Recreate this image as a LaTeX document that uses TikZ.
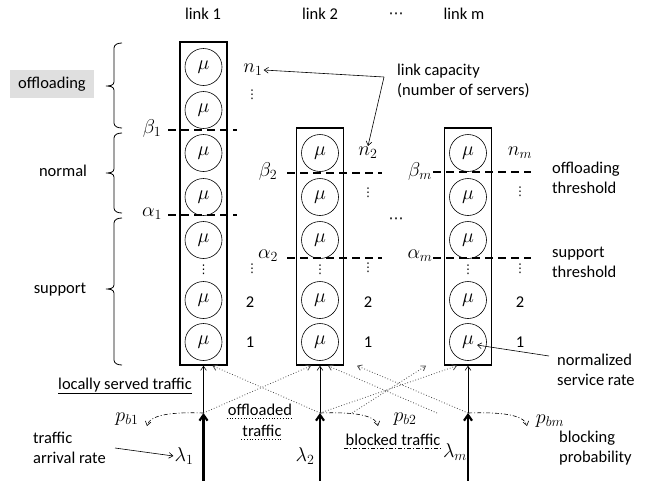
\RequirePackage{fix-cm}
\documentclass[tikz,border=0pt]{standalone}
\usepackage{fontspec}
\setmainfont{Carlito}
\newfontfamily\dvsym{DejaVu Sans}
\usetikzlibrary{arrows.meta}
\newcommand\leftbrace[3]{% top, mid, bottom at x=114
  \draw[line width=0.8pt] (122,#1) to[out=180,in=90] (114,#1+5) -- (114,#2-4)
    to[out=-90,in=0] (106,#2) to[out=0,in=90] (114,#2+4) -- (114,#3-5)
    to[out=-90,in=180] (122,#3);}
\begin{document}
\begin{tikzpicture}[x=1pt,y=-1pt,
  font=\fontsize{16.5}{20}\selectfont,
  >={Straight Barb[angle=70:5pt]},
  mth/.style={font=\fontsize{20}{23}\selectfont,inner sep=1pt},
  vd/.style={font=\fontsize{12}{13}\dvsym,inner sep=0pt},
  hd/.style={font=\fontsize{15}{16}\dvsym,inner sep=0pt},
  srv/.style={circle,draw,minimum size=37pt,inner sep=0pt,line width=0.6pt,font=\fontsize{20}{23}\selectfont},
  linkbox/.style={draw,line width=1.5pt,minimum width=47pt,inner sep=0pt},
  thr/.style={line width=1.7pt,dash pattern=on 8pt off 5pt},
  txt/.style={inner sep=1pt},
  ml/.style={align=left,inner sep=0pt,anchor=west},
  offl/.style={gray!60!black,dotted,line width=0.8pt,->},
  block/.style={dash pattern=on 4pt off 2pt on 1pt off 2pt,line width=0.6pt,->},
  arr/.style={line width=2.2pt,-{Straight Barb[angle=70:7pt]}}]
\useasboundingbox (0,0) rectangle (647,480);

% link boxes
\node[linkbox,minimum height=323pt] (box1) at (203.5,203.5) {};
\node[linkbox,minimum height=237pt] (box2) at (320,246.5) {};
\node[linkbox,minimum height=237pt] (boxm) at (468,246.5) {};

% servers
\foreach \r/\y in {1/67,2/110,3/153,4/197,5/240,6/300,7/342}
  \node[srv] (c1\r) at (203.5,\y) {$\mu$};
\foreach \r/\y in {3/153,4/197,5/240,6/300,7/342}{
  \node[srv] (c2\r) at (320,\y) {$\mu$};
  \node[srv] (cm\r) at (468,\y) {$\mu$};}
\node[vd] (d1) at (203.5,270) {⋮};
\node[vd] (d2) at (320,270) {⋮};
\node[vd] (dm) at (468,270) {⋮};

% titles
\node (t1) at (203,14) {link 1};
\node (t2) at (320,14) {link 2};
\node[hd] (tdots) at (396,16) {⋯};
\node (tm) at (464,14) {link m};
\node[hd] (mdots) at (396,221) {⋯};

% thresholds
\node[mth] (beta1) at (152,128) {$\beta_1$};
\node[mth] (alpha1) at (152,214) {$\alpha_1$};
\node[mth] (beta2) at (268,171) {$\beta_2$};
\node[mth] (alpha2) at (268,256) {$\alpha_2$};
\node[mth] (betam) at (420,171) {$\beta_m$};
\node[mth] (alpham) at (420,256) {$\alpha_m$};
\draw[thr] (168,130) -- (237,130);
\draw[thr] (168,215) -- (237,215);
\draw[thr] (287,173) -- (382,173);
\draw[thr] (287,258) -- (382,258);
\draw[thr] (433,172) -- (531,172);
\draw[thr] (433,258) -- (531,258);

% right-side counts
\node[mth] (n1) at (253,70) {$n_1$};
\node[vd] (v1a) at (252,95) {⋮};
\node[vd] (v1b) at (252,269) {⋮};
\node (two1) at (250,302) {2};
\node (one1) at (250,342) {1};
\node[mth] (n2) at (368,153) {$n_2$};
\node[vd] (v2a) at (368,193) {⋮};
\node[vd] (v2b) at (368,268) {⋮};
\node (two2) at (368,302) {2};
\node (one2) at (368,342) {1};
\node[mth] (nm) at (520,153) {$n_m$};
\node[vd] (vma) at (520,192) {⋮};
\node[vd] (vmb) at (520,269) {⋮};
\node (twom) at (520,302) {2};
\node (onem) at (520,342) {1};

% annotations right
\node[ml] (cap) at (397,81) {link capacity\\(number of servers)};
\coordinate (capc) at (384,77);
\draw[line width=0.6pt,->] (capc) -- (n1.east);
\draw[line width=0.6pt,->] (capc) -- (n2.north);
\node[ml] (othr) at (552,178) {offloading\\threshold};
\node[ml] (sthr) at (552,262) {support\\threshold};
\node[ml] (nsr) at (557,370) {normalized\\service rate};
\coordinate (nsrs) at (549,356);
\draw[line width=0.6pt,->] (nsrs) -- ([xshift=9pt,yshift=-3pt]cm7.center);

% left labels and braces
\node[fill=gray!25,minimum width=84pt,minimum height=28pt,inner sep=0pt] (offload) at (52,84) {offloading};
\node (normal) at (63,171) {normal};
\node (support) at (60,290) {support};
\leftbrace{43}{86}{128}
\leftbrace{133}{173}{213}
\leftbrace{218}{289}{365}

% bottom flows
\foreach \c/\x in {1/203.5,2/320,m/468}{
  \coordinate (p\c) at (\x,413);
  \coordinate (b\c) at (\x,482);
  \draw[arr] (b\c) -- (p\c);
  \draw[line width=0.6pt,->] (p\c) -- (box\c.south);}
\coordinate (dstart) at (352,413);
\coordinate (fstart) at (437,413);
\draw[offl] (p1) -- ([xshift=-9pt]box2.south);
\draw[offl] (p2) -- ([xshift=9pt]box1.south);
\draw[offl] (p2) -- ([xshift=-11pt]boxm.south);
\draw[offl] (dstart) -- ([xshift=-42pt]boxm.south);
\draw[offl] (pm) -- ([xshift=37pt]box2.south);
\draw[offl] (fstart) -- ([xshift=8pt]box2.south);

\coordinate (e1) at (147,426);
\coordinate (e2) at (378,426);
\coordinate (em) at (527,426);
\draw[block] (p1) .. controls (175,412) and (150,414) .. (e1);
\draw[block] (p2) .. controls (350,412) and (375,414) .. (e2);
\draw[block] (pm) .. controls (498,412) and (524,414) .. (em);
\node[mth] (pb1) at (127,419) {$p_{b1}$};
\node[mth] (pb2) at (405,419) {$p_{b2}$};
\node[mth] (pbm) at (550,421) {$p_{bm}$};

\node[mth] (lam1) at (184,456) {$\lambda_1$};
\node[mth] (lam2) at (305,456) {$\lambda_2$};
\node[mth] (lamm) at (455,452) {$\lambda_m$};

\node (local) at (125,386) {\underline{locally served traffic}};
\node[txt] (off1) at (260,410) {offloaded};
\node[txt] (off2) at (262,431) {traffic};
\draw[dotted,line width=0.8pt] ([yshift=-3pt]off1.base west) -- ([yshift=-3pt]off1.base east);
\draw[dotted,line width=0.8pt] ([yshift=-3pt]off2.base west) -- ([yshift=-3pt]off2.base east);
\node[txt] (blk) at (393,440) {blocked traffic};
\draw[dash pattern=on 4pt off 2pt on 1pt off 2pt,line width=0.6pt] ([yshift=-3pt]blk.base west) -- ([yshift=-3pt]blk.base east);

\node[ml] (arrival) at (33,448) {traffic\\arrival rate};
\coordinate (arrs) at (115,448);
\draw[line width=0.6pt,->] (arrs) -- (lam1.west);
\node[ml] (bprob) at (559,448) {blocking\\probability};
\end{tikzpicture}
\end{document}
